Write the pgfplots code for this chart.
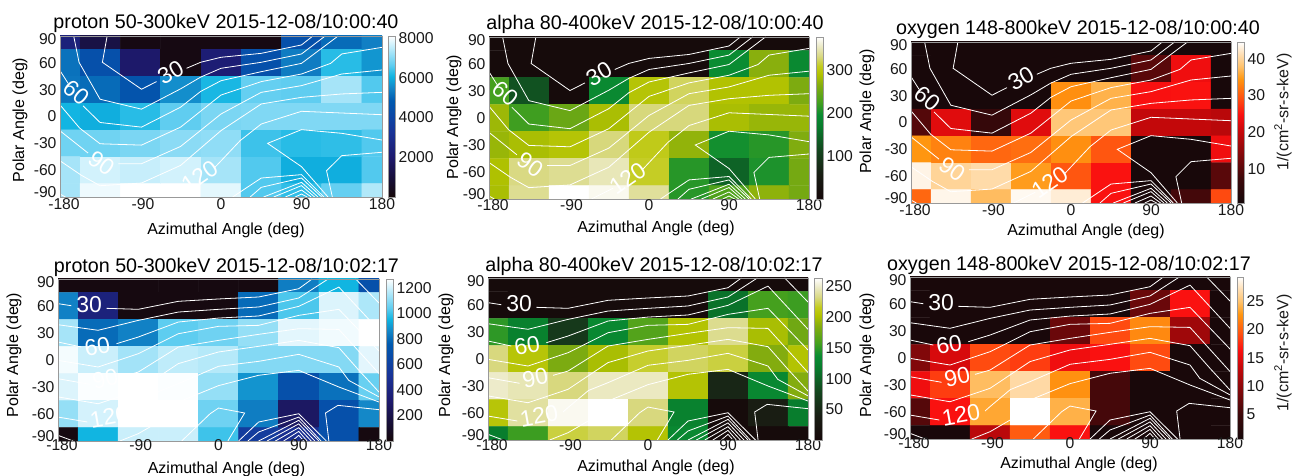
\documentclass[border=0pt]{standalone}
\usepackage{fontspec}
\setmainfont{Liberation Sans}
\usepackage{pgfplots}
\pgfplotsset{compat=1.18}
\pgfplotsset{
 colormap={blu}{rgb255(0pt)=(22,8,10) rgb255(10pt)=(22,14,50) rgb255(25pt)=(30,26,110) rgb255(40pt)=(25,50,150) rgb255(50pt)=(12,70,165) rgb255(60pt)=(0,90,175) rgb255(68pt)=(20,135,200) rgb255(75pt)=(15,180,225) rgb255(82pt)=(95,205,240) rgb255(90pt)=(165,228,248) rgb255(100pt)=(255,255,255)},
 colormap={grn}{rgb255(0pt)=(22,8,10) rgb255(15pt)=(25,30,20) rgb255(30pt)=(20,70,30) rgb255(45pt)=(8,125,45) rgb255(52pt)=(10,140,50) rgb255(60pt)=(70,160,30) rgb255(70pt)=(130,172,15) rgb255(77pt)=(178,194,0) rgb255(82pt)=(195,204,30) rgb255(88pt)=(216,216,128) rgb255(95pt)=(238,236,205) rgb255(100pt)=(255,255,255)},
 colormap={rdd}{rgb255(0pt)=(22,8,10) rgb255(15pt)=(60,8,10) rgb255(30pt)=(130,8,10) rgb255(45pt)=(200,8,10) rgb255(55pt)=(250,16,16) rgb255(65pt)=(255,80,16) rgb255(77pt)=(255,150,16) rgb255(85pt)=(255,195,110) rgb255(93pt)=(255,225,185) rgb255(100pt)=(255,255,255)},
}
\newcommand{\tk}{\fontsize{15.7}{16}\selectfont}
\newcommand{\ttl}{\fontsize{19.7}{20}\selectfont}
\newcommand{\lb}{\fontsize{16}{17}\selectfont}
\newcommand{\cl}{\fontsize{23}{23}\selectfont}
\definecolor{frame}{gray}{0.6}
\pgfplotsset{
 pnl/.style={
  scale only axis,xmin=-180,xmax=180,ymin=-90,ymax=90,
  xtick={-180,-90,0,90,180},xticklabels={\hspace*{8pt}-180,\hspace*{5pt}-90,0,90,180},
  ytick={-90,-60,-30,0,30,60,90},
  yticklabels={\raisebox{5pt}[11pt][0pt]{-90},-60,-30,0,30,60,\raisebox{-3pt}[11pt][0pt]{90}},
  major tick length=0pt,minor tick num=0,
  axis line style={frame,line width=0.6pt},
  tick label style={font=\tk,text=black!90},
  label style={font=\lb},
  title style={font=\ttl},
  axis on top,
  xlabel={Azimuthal Angle (deg)},ylabel={Polar Angle (deg)},
 },
 cbar/.style n args={3}{
  colorbar,
  colorbar style={
   at={(parent axis.north east)},anchor=north west,xshift=#1-8.5pt,
   width=#2,scale only axis,
   major tick length=0pt,
   axis line style={frame,line width=0.6pt},
   tick label style={font=\tk,text=black!90},
   yticklabel pos=right,
   #3
  },
 },
 heat/.style={matrix plot*,mesh/cols=9,mesh/rows=7,point meta=explicit,forget plot},
 cont/.style={white,line width=0.8pt,no marks,forget plot},
}
\newcommand{\topc}{%
 \addplot[cont] coordinates {(-127.3,90)(-132.6,60.6)(-88.9,30.5)(-72,39)};
 \addplot[cont] coordinates {(-38.5,53.9)(-22.8,60.6)(0,66.2)(45,70.6)(90,80)(102.7,90)};
 \addplot[cont] coordinates {(-164.7,90)(-158.7,60.6)(-135.2,19.3)(-88.9,8.2)(-45.2,30.9)(-22.8,44)(0,53.9)(45,60.6)(90,69.9)(116.5,90)};
 \addplot[cont] coordinates {(-180,51.3)(-171,37.2)};
 \addplot[cont] coordinates {(-154.2,11.9)(-135.2,-6.7)(-88.9,-11.9)(-45.2,10.4)(-22.8,28)(0,40)(45,50.1)(90,59.4)(131,90)};
 \addplot[cont] coordinates {(-180,13)(-158,-13)(-135.2,-30.5)(-88.9,-32)(-45.2,-11.9)(0,24)(45,39)(90,47.5)(122.6,59.4)(135,69.9)(180,77.3)};
 \addplot[cont] coordinates {(-180,-16)(-148.6,-40.9)};
 \addplot[cont] coordinates {(-114.7,-52.8)(-88.9,-52.8)(-45.2,-33.5)(0,2.8)(45,27)(90,34.5)(135,47.5)(180,52)};
 \addplot[cont] coordinates {(-180,-49.5)(-156,-65.8)(-135.2,-77.4)(-88.9,-74.4)(-45.2,-54.7)(0,-15.8)(45,14)(90,21.4)(135,25.2)(180,27)};
 \addplot[cont] coordinates {(-64.6,-90)(-40.3,-78)};
 \addplot[cont] coordinates {(-6.8,-56.8)(21.4,-27)(45,-8.4)(90,5.8)(135,3.9)(180,2)};
 \addplot[cont] coordinates {(180,-26.3)(135,-18.8)(90,-14.7)(52.1,-30)(90,-56.1)(119.6,-90)};
 \addplot[cont] coordinates {(124.5,-90)(118,-60.6)(135,-43.8)(180,-40)};
 \addplot[cont] coordinates {(-180,-86.7)(-174,-90)};
 \addplot[cont] coordinates {(13,-90)(45,-68.8)(90,-65)(115,-90)};
 \addplot[cont] coordinates {(32.6,-90)(45,-79.2)(90,-68.8)(112.5,-90)};
 \addplot[cont] coordinates {(47.6,-90)(90,-73.6)(108.4,-90)};
 \addplot[cont] coordinates {(58.9,-90)(90,-77.3)(104.6,-90)};
 \addplot[cont] coordinates {(72,-90)(90,-82.2)(100.9,-90)};
 \addplot[cont] coordinates {(83,-90)(90,-86.7)(96.4,-90)};
 \node[white,font=\cl,rotate=30] at (axis cs:-56.4,49) {30};
 \node[white,font=\cl,rotate=-40] at (axis cs:-161.7,26.8) {60};
 \node[white,font=\cl,rotate=-35] at (axis cs:-133.7,-52) {90};
 \node[white,font=\cl,rotate=35] at (axis cs:-24,-67) {120};
}
\newcommand{\botc}{%
 \addplot[cont] coordinates {(-180,62.6)(-165,60.3)};
 \addplot[cont] coordinates {(-125.6,57.4)(-90,56.3)(-45,65.2)(0,67.8)(45,70)(90,79.2)(105,90)};
 \addplot[cont] coordinates {(-180,39.2)(-135,33)(-90,44)(-45,53.3)(0,56.3)(45,58.9)(90,68.9)(123,90)};
 \addplot[cont] coordinates {(-180,20)(-153.75,14.4)};
 \addplot[cont] coordinates {(-114.4,18.1)(-90,25.5)(-45,42.2)(0,46.6)(45,48.9)(90,59.6)(135,81)(180,33)};
 \addplot[cont] coordinates {(-180,-0.4)(-135,-7.8)(-90,7)(-45,29.2)(0,37.4)(45,38.5)(90,49.6)(135,56.3)(180,10)};
 \addplot[cont] coordinates {(-180,-20.8)(-144.4,-27)};
 \addplot[cont] coordinates {(-106.9,-18.2)(-90,-13.4)(-45,14.4)(0,21.8)(45,28.5)(90,34.8)(135,34)(180,-15)};
 \addplot[cont] coordinates {(-180,-41)(-135,-48.6)(-90,-33.7)(-45,-4)(0,8.9)(45,15.2)(90,21.8)(135,13.7)(157.5,-11.5)(180,-35.6)};
 \addplot[cont] coordinates {(-180,-63.4)(-147,-68.9)};
 \addplot[cont] coordinates {(-95.6,-58.9)(-90,-54)(-67,-35)(-45,-26.3)(0,-7)(45,-1.5)(90,6.3)(135,-7.8)(146,-22.6)(180,-41)};
 \addplot[cont] coordinates {(-110.6,-90)(-90,-81.9)(-67.5,-69)(-45,-46.7)(0,-28.5)(45,-17)(90,-11.5)(135,-30)(180,-46.7)};
 \addplot[cont] coordinates {(-180,-83.7)(-163,-90)};
 \addplot[cont] coordinates {(153.8,90)(180,63.3)};
 \addplot[cont] coordinates {(-41.3,-90)(-9.4,-59.7)(0,-53.4)(29.3,-58.9)(10.5,-90)};
 \addplot[cont] coordinates {(123.8,-90)(120,-58.9)(134,-50.4)(180,-55.2)};
 \addplot[cont] coordinates {(22.5,-90)(45,-68.9)(90,-59.7)(121,-90)};
 \addplot[cont] coordinates {(33,-90)(45,-80)(90,-63.4)(115,-90)};
 \addplot[cont] coordinates {(45,-90)(90,-67)(112.5,-90)};
 \addplot[cont] coordinates {(54.4,-90)(90,-71)(108,-90)};
 \addplot[cont] coordinates {(63.8,-90)(90,-75.2)(104,-90)};
 \addplot[cont] coordinates {(73,-90)(90,-79.3)(99.4,-90)};
 \addplot[cont] coordinates {(82.5,-90)(90,-83.7)(95.6,-90)};
 \node[white,font=\cl,rotate=0] at (axis cs:-145,61.4) {30};
 \node[white,font=\cl,rotate=10] at (axis cs:-136,15.2) {60};
 \node[white,font=\cl,rotate=12] at (axis cs:-127,-20.8) {90};
 \node[white,font=\cl,rotate=10] at (axis cs:-122.6,-63.4) {120};
}
\begin{document}
\begin{tikzpicture}[x=1pt,y=1pt]
\path[use as bounding box] (0,0) rectangle (1292pt,476pt);
% ---------------- proton 10:00:40
\begin{axis}[pnl,at={(60pt,279pt)},anchor=south west,width=322pt,height=161pt,
 colormap name=blu,point meta min=0,point meta max=8100,
 cbar={6pt}{7pt}{ytick={2000,4000,6000,8000},yticklabels={2000,4000,6000,8000}},
 title={proton 50-300keV 2015-12-08/10:00:40},
 title style={at={(axis description cs:0.5,1)},anchor=center,yshift=7pt,xshift=5pt},
 xticklabel style={yshift=2pt},
 xlabel style={at={(axis description cs:0.5,0)},anchor=center,yshift=-33pt,xshift=5pt},
 ylabel style={at={(axis description cs:0,0.5)},anchor=center,xshift=-3.5pt,yshift=40pt},
]
\addplot[heat] coordinates {
(-180,90)[2400](-135,90)[1200](-90,90)[160](-45,90)[160](0,90)[160](45,90)[160](90,90)[4450](135,90)[5100](180,90)[5400]
(-180,60)[5200](-135,60)[4450](-90,60)[1950](-45,60)[160](0,60)[2200](45,60)[4450](90,60)[5350](135,60)[6250](180,60)[5700]
(-180,30)[5250](-135,30)[5100](-90,30)[4600](-45,30)[5600](0,30)[6150](45,30)[6700](90,30)[6650](135,30)[7300](180,30)[6550]
(-180,0)[6100](-135,0)[6000](-90,0)[6250](-45,0)[6650](0,0)[6900](45,0)[6950](90,0)[6950](135,0)[6950](180,0)[6950]
(-180,-30)[6800](-135,-30)[6800](-90,-30)[6900](-45,-30)[7050](0,-30)[7100](45,-30)[6400](90,-30)[6250](135,-30)[6300](180,-30)[6550]
(-180,-60)[7300](-135,-60)[7700](-90,-60)[7600](-45,-60)[7700](0,-60)[7300](45,-60)[6550](90,-60)[6000](135,-60)[6000](180,-60)[6550]
(-180,-90)[7300](-135,-90)[7950](-90,-90)[8100](-45,-90)[8100](0,-90)[7850](45,-90)[6550](90,-90)[6300](135,-90)[6700](180,-90)[7400]
};
\topc
\end{axis}
% ---------------- alpha 10:00:40
\begin{axis}[pnl,at={(489pt,277pt)},anchor=south west,width=320pt,height=162pt,
 colormap name=grn,point meta min=0,point meta max=376,
 cbar={7pt}{7pt}{ytick={100,200,300},yticklabels={100,200,300}},
 title={alpha 80-400keV 2015-12-08/10:00:40},
 title style={at={(axis description cs:0.5,1)},anchor=center,yshift=7pt,xshift=6pt},
 xticklabel style={yshift=3pt},
 xlabel style={at={(axis description cs:0.5,0)},anchor=center,yshift=-29pt,xshift=7pt},
 ylabel style={at={(axis description cs:0,0.5)},anchor=center,xshift=1pt,yshift=35pt},
]
\addplot[heat] coordinates {
(-180,90)[8](-135,90)[8](-90,90)[8](-45,90)[8](0,90)[8](45,90)[8](90,90)[8](135,90)[8](180,90)[8]
(-180,60)[8](-135,60)[8](-90,60)[8](-45,60)[8](0,60)[8](45,60)[8](90,60)[195](135,60)[267](180,60)[190]
(-180,30)[225](-135,30)[125](-90,30)[8](-45,30)[190](0,30)[293](45,30)[323](90,30)[290](135,30)[290](180,30)[260]
(-180,0)[278](-135,0)[222](-90,0)[248](-45,0)[285](0,0)[330](45,0)[330](90,0)[285](135,0)[275](180,0)[275]
(-180,-30)[275](-135,-30)[285](-90,-30)[293](-45,-30)[330](0,-30)[305](45,-30)[272](90,-30)[200](135,-30)[210](180,-30)[262]
(-180,-60)[288](-135,-60)[332](-90,-60)[337](-45,-60)[350](0,-60)[310](45,-60)[210](90,-60)[143](135,-60)[205](180,-60)[255]
(-180,-90)[285](-135,-90)[337](-90,-90)[376](-45,-90)[370](0,-90)[340](45,-90)[210](90,-90)[232](135,-90)[270](180,-90)[255]
};
\topc
\end{axis}
% ---------------- oxygen 10:00:40
\begin{axis}[pnl,at={(911pt,273pt)},anchor=south west,width=320pt,height=161pt,
 colormap name=rdd,point meta min=0.7,point meta max=44.6,
 cbar={6pt}{7pt}{ytick={10,20,30,40},yticklabels={10,20,30,40}},
 title={oxygen 148-800keV 2015-12-08/10:00:40},
 title style={at={(axis description cs:0.5,1)},anchor=center,yshift=7pt,xshift=7pt},
 xticklabel style={yshift=2pt},
 xlabel style={at={(axis description cs:0.5,0)},anchor=center,yshift=-28pt,xshift=15pt},
 ylabel style={at={(axis description cs:0,0.5)},anchor=center,xshift=11pt,yshift=44pt},
]
\addplot[heat] coordinates {
(-180,90)[1](-135,90)[1](-90,90)[1](-45,90)[1](0,90)[1](45,90)[1](90,90)[1](135,90)[1](180,90)[1]
(-180,60)[1](-135,60)[1](-90,60)[1](-45,60)[1](0,60)[1](45,60)[1](90,60)[10](135,60)[24](180,60)[1]
(-180,30)[1](-135,30)[1](-90,30)[1](-45,30)[1](0,30)[34](45,30)[36.7](90,30)[24.8](135,30)[25](180,30)[1]
(-180,0)[9.5](-135,0)[22.6](-90,0)[6](-45,0)[22.6](0,0)[38.5](45,0)[38.5](90,0)[20](135,0)[20](180,0)[19]
(-180,-30)[34.5](-135,-30)[33](-90,-30)[31](-45,-30)[31.5](0,-30)[34](45,-30)[29.7](90,-30)[1](135,-30)[1](180,-30)[24]
(-180,-60)[43.5](-135,-60)[40](-90,-60)[40.8](-45,-60)[35](0,-60)[29.7](45,-60)[25](90,-60)[1](135,-60)[1](180,-60)[10]
(-180,-90)[31](-135,-90)[43.7](-90,-90)[37.5](-45,-90)[44](0,-90)[42.8](45,-90)[25](90,-90)[1.5](135,-90)[8](180,-90)[28.8]
};
\topc
\end{axis}
% ---------------- proton 10:02:17
\begin{axis}[pnl,at={(58pt,35pt)},anchor=south west,width=321pt,height=162pt,
 colormap name=blu,point meta min=0,point meta max=1270,
 cbar={7pt}{7pt}{ytick={200,400,600,800,1000,1200},yticklabels={200,400,600,800,1000,1200}},
 title={proton 50-300keV 2015-12-08/10:02:17},
 title style={at={(axis description cs:0.5,1)},anchor=center,yshift=6pt,xshift=8pt},
 xticklabel style={yshift=5pt},
 xlabel style={at={(axis description cs:0.5,0)},anchor=center,yshift=-28pt,xshift=8pt},
 ylabel style={at={(axis description cs:0,0.5)},anchor=center,xshift=5pt,yshift=44pt},
]
\addplot[heat] coordinates {
(-180,90)[20](-135,90)[20](-90,90)[20](-45,90)[20](0,90)[20](45,90)[20](90,90)[840](135,90)[955](180,90)[700]
(-180,60)[850](-135,60)[380](-90,60)[20](-45,60)[20](0,60)[20](45,60)[800](90,60)[1020](135,60)[1220](180,60)[1155]
(-180,30)[1145](-135,30)[800](-90,30)[850](-45,30)[1040](0,30)[1065](45,30)[1120](90,30)[1230](135,30)[1250](180,30)[1270]
(-180,0)[1255](-135,0)[1195](-90,0)[1140](-45,0)[1180](0,0)[1165](45,0)[1095](90,0)[1095](135,0)[1095](180,0)[1230]
(-180,-30)[1220](-135,-30)[1265](-90,-30)[1270](-45,-30)[1265](0,-30)[1120](45,-30)[890](90,-30)[700](135,-30)[815](180,-30)[1055]
(-180,-60)[1120](-135,-60)[1210](-90,-60)[1270](-45,-60)[1270](0,-60)[1065](45,-60)[840](90,-60)[280](135,-60)[700](180,-60)[865]
(-180,-90)[20](-135,-90)[955](-90,-90)[1195](-45,-90)[1195](0,-90)[1005](45,-90)[570](90,-90)[480](135,-90)[700](180,-90)[20]
};
\botc
\end{axis}
% ---------------- alpha 10:02:17
\begin{axis}[pnl,at={(488pt,36pt)},anchor=south west,width=320pt,height=162pt,
 colormap name=grn,point meta min=0,point meta max=264,
 cbar={6pt}{8pt}{ytick={50,100,150,200,250},yticklabels={50,100,150,200,250}},
 title={alpha 80-400keV 2015-12-08/10:02:17},
 title style={at={(axis description cs:0.5,1)},anchor=center,yshift=6pt,xshift=6pt},
 xticklabel style={yshift=4pt},
 xlabel style={at={(axis description cs:0.5,0)},anchor=center,yshift=-27pt,xshift=8pt},
 ylabel style={at={(axis description cs:0,0.5)},anchor=center,xshift=4pt,yshift=42pt},
]
\addplot[heat] coordinates {
(-180,90)[5](-135,90)[5](-90,90)[5](-45,90)[5](0,90)[5](45,90)[5](90,90)[5](135,90)[5](180,90)[5]
(-180,60)[5](-135,60)[5](-90,60)[5](-45,60)[5](0,60)[5](45,60)[5](90,60)[111](135,60)[158](180,60)[155]
(-180,30)[150](-135,30)[124](-90,30)[66](-45,30)[132](0,30)[164](45,30)[204](90,30)[236](135,30)[200](180,30)[177]
(-180,0)[232](-135,0)[207](-90,0)[182](-45,0)[200](0,0)[219](45,0)[227](90,0)[222](135,0)[185](180,0)[204]
(-180,-30)[250](-135,-30)[245](-90,-30)[232](-45,-30)[248](0,-30)[248](45,-30)[205](90,-30)[48](135,-30)[132](180,-30)[185]
(-180,-60)[207](-135,-60)[240](-90,-60)[260](-45,-60)[264](0,-60)[232](45,-60)[125](90,-60)[5](135,-60)[37](180,-60)[119]
(-180,-90)[119](-135,-90)[155](-90,-90)[222](-45,-90)[227](0,-90)[205](45,-90)[132](90,-90)[5](135,-90)[5](180,-90)[5]
};
\botc
\end{axis}
% ---------------- oxygen 10:02:17
\begin{axis}[pnl,at={(910pt,37pt)},anchor=south west,width=320pt,height=162pt,
 colormap name=rdd,point meta min=0.7,point meta max=29.2,
 cbar={7pt}{6pt}{ytick={5,10,15,20,25},yticklabels={5,10,15,20,25}},
 title={oxygen 148-800keV 2015-12-08/10:02:17},
 title style={at={(axis description cs:0.5,1)},anchor=center,yshift=6pt,xshift=-1pt},
 xticklabel style={yshift=5pt},
 xlabel style={at={(axis description cs:0.5,0)},anchor=center,yshift=-25pt,xshift=9pt},
 ylabel style={at={(axis description cs:0,0.5)},anchor=center,xshift=3pt,yshift=43pt},
]
\addplot[heat] coordinates {
(-180,90)[1](-135,90)[1](-90,90)[1](-45,90)[1](0,90)[1](45,90)[1](90,90)[1](135,90)[1](180,90)[1]
(-180,60)[1](-135,60)[1](-90,60)[1](-45,60)[1](0,60)[1](45,60)[1](90,60)[7.8](135,60)[16.4](180,60)[1]
(-180,30)[1](-135,30)[1](-90,30)[1](-45,30)[1](0,30)[7.8](45,30)[19](90,30)[22](135,30)[11](180,30)[1]
(-180,0)[9.2](-135,0)[14.4](-90,0)[19](-45,0)[18.4](0,0)[15.8](45,0)[16.4](90,0)[19](135,0)[1](180,0)[1]
(-180,-30)[15.8](-135,-30)[18.4](-90,-30)[24.6](-45,-30)[26.6](0,-30)[22.4](45,-30)[5.5](90,-30)[1](135,-30)[1](180,-30)[1]
(-180,-60)[6.5](-135,-60)[16.4](-90,-60)[23.5](-45,-60)[29.2](0,-60)[24](45,-60)[5.5](90,-60)[1](135,-60)[1](180,-60)[1]
(-180,-90)[1](-135,-90)[1](-90,-90)[12.7](-45,-90)[19.8](0,-90)[16.4](45,-90)[1](90,-90)[1](135,-90)[1](180,-90)[1]
};
\botc
\end{axis}
\node[rotate=90,font=\lb,text=black!90] at (1283pt,364pt) {1/(cm\textsuperscript{2}-sr-s-keV)};
\node[rotate=90,font=\lb,text=black!90] at (1283pt,123pt) {1/(cm\textsuperscript{2}-sr-s-keV)};
\end{tikzpicture}
\end{document}
